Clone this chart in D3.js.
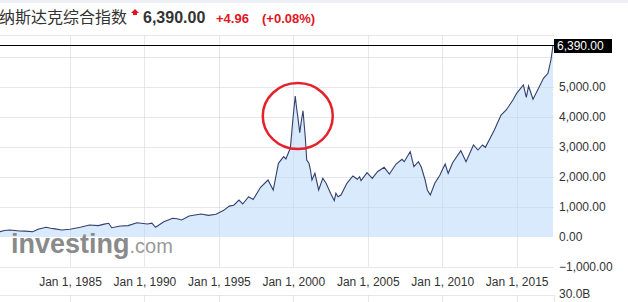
<!DOCTYPE html>
<head>
<meta charset="utf-8">
<script src="https://d3js.org/d3.v7.min.js"></script>
<style>
  body { margin: 0; background: #fff; }
  svg { display: block; font-family: Arial, "Liberation Sans", sans-serif; }
</style>
</head>
<body>
<svg id="chart" width="628" height="302"></svg>
<script>
// Nasdaq composite (decimal year, close)
const years = [
  1980.30, 1980.60, 1980.95, 1981.30, 1981.60, 1982.00, 1982.50, 1982.85, 1983.40, 1983.70,
  1984.00, 1984.45, 1985.00, 1985.70, 1986.30, 1986.90, 1987.30, 1987.60, 1987.80, 1988.40,
  1988.90, 1989.50, 1990.20, 1990.50, 1990.75, 1991.30, 1991.90, 1992.20, 1992.50, 1993.00,
  1993.80, 1994.30, 1994.80, 1995.30, 1995.70, 1996.00, 1996.35, 1996.60, 1997.00, 1997.30,
  1997.80, 1998.30, 1998.65, 1999.00, 1999.35, 1999.50, 1999.70, 1999.80, 1999.98, 2000.13,
  2000.22, 2000.30, 2000.43, 2000.55, 2000.65, 2000.80, 2000.90, 2001.05, 2001.15, 2001.25,
  2001.45, 2001.70, 2001.98, 2002.20, 2002.50, 2002.75, 2002.86, 2003.00, 2003.20, 2003.60,
  2004.00, 2004.30, 2004.45, 2004.55, 2004.95, 2005.30, 2005.65, 2006.10, 2006.45, 2006.90,
  2007.30, 2007.45, 2007.85, 2008.10, 2008.40, 2008.60, 2008.85, 2009.00, 2009.20, 2009.50,
  2009.85, 2010.00, 2010.20, 2010.40, 2010.70, 2011.25, 2011.60, 2012.10, 2012.40, 2012.70,
  2012.90, 2013.50, 2013.95, 2014.30, 2014.75, 2015.00, 2015.45, 2015.65, 2015.80, 2016.10,
  2016.35, 2016.80, 2017.10, 2017.30, 2017.44
];
const closes = [
  177, 215, 233, 215, 200, 195, 177, 260, 323, 290,
  270, 233, 260, 323, 400, 380, 430, 457, 310, 367,
  380, 477, 433, 460, 323, 510, 623, 610, 567, 700,
  767, 720, 760, 880, 1030, 1060, 1230, 1100, 1343, 1250,
  1657, 1900, 1567, 2457, 2677, 2600, 2843, 2957, 3957, 4700,
  4300, 4010, 3477, 3900, 4210, 3343, 2567, 2457, 2233, 1900,
  2123, 1567, 1957, 1790, 1457, 1210, 1457, 1343, 1400, 1790,
  2033, 1923, 2010, 1877, 2143, 1957, 2177, 2323, 2100, 2433,
  2590, 2510, 2843, 2343, 2510, 2323, 1900, 1567, 1400, 1790,
  2067, 2233, 2433, 2123, 2477, 2877, 2510, 3067, 2900, 3067,
  2990, 3567, 4067, 4233, 4567, 4790, 5067, 4657, 5033, 4590,
  4843, 5290, 5457, 5900, 6390
];
const yLabels = [-1000, 0, 1000, 2000, 3000, 4000, 5000];
const yGrid = [1000, 2000, 3000, 4000, 5000, 6000];
const xTickYears = [1985, 1990, 1995, 2000, 2005, 2010, 2015];
const lastPrice = 6390;

function toDate(y) {
  const yr = Math.floor(y);
  const a = new Date(yr, 0, 1), b = new Date(yr + 1, 0, 1);
  return new Date(+a + (y - yr) * (b - a));
}
const data = years.map((y, i) => ({date: toDate(y), v: closes[i]}));

const svg = d3.select("#chart");
const plotR = 554;

const x = d3.scaleTime()
  .domain([toDate(1980.30), toDate(2017.44)])
  .range([0, 553]);
const y = d3.scaleLinear()
  .domain([-1000, 6733.3])
  .range([267, 35]);

// header
svg.append("rect").attr("x", 0).attr("y", 0).attr("width", 628).attr("height", 3).attr("fill", "#eef0f5");
svg.append("text").attr("x", -1).attr("y", 23)
  .style("font-family", "'Noto Sans CJK SC', sans-serif").style("font-size", "16px")
  .attr("fill", "#333").text("纳斯达克综合指数");
svg.append("path").attr("d", "M135,9 L139,13 L137,13 L137,15 L133,15 L133,13 L131,13 Z").attr("fill", "#e0161f");
svg.append("text").attr("x", 143).attr("y", 23).style("font-size", "16px").style("font-weight", "bold")
  .attr("fill", "#333").text("6,390.00");
svg.append("text").attr("x", 216).attr("y", 23).style("font-size", "13px").style("font-weight", "bold")
  .attr("fill", "#e0161f").text("+4.96");
svg.append("text").attr("x", 262).attr("y", 23).style("font-size", "13px").style("font-weight", "bold")
  .attr("fill", "#e0161f").text("(+0.08%)");

// area + line
svg.append("path").datum(data)
  .attr("fill", "#d9eafc")
  .attr("d", d3.area().x(d => x(d.date)).y0(y(0)).y1(d => y(d.v)));

// grid
const grid = svg.append("g").attr("stroke", "#c9d1dc").attr("stroke-opacity", 0.5);
grid.selectAll("line.h").data(yGrid).join("line")
  .attr("x1", 0).attr("x2", plotR).attr("y1", d => Math.round(y(d)) + 0.5).attr("y2", d => Math.round(y(d)) + 0.5);
grid.append("line").attr("x1", 0).attr("x2", plotR).attr("y1", 35.5).attr("y2", 35.5);
grid.append("line").attr("x1", 0).attr("x2", plotR).attr("y1", 267.5).attr("y2", 267.5);
grid.append("line").attr("x1", 0).attr("x2", plotR).attr("y1", 295.5).attr("y2", 295.5);
grid.selectAll("line.v").data(xTickYears).join("line")
  .attr("x1", d => Math.round(x(new Date(d, 0, 1))) + 0.5).attr("x2", d => Math.round(x(new Date(d, 0, 1))) + 0.5)
  .attr("y1", 35).attr("y2", 267);
grid.selectAll("line.vb").data(xTickYears).join("line")
  .attr("x1", d => Math.round(x(new Date(d, 0, 1))) + 0.5).attr("x2", d => Math.round(x(new Date(d, 0, 1))) + 0.5)
  .attr("y1", 295).attr("y2", 302);
grid.append("line").attr("x1", plotR + 0.5).attr("x2", plotR + 0.5).attr("y1", 295).attr("y2", 302);

svg.append("path").datum(data)
  .attr("fill", "none").attr("stroke", "#33406e").attr("stroke-width", 1.1)
  .attr("d", d3.line().x(d => x(d.date)).y(d => y(d.v)));

// last price line
svg.append("line").attr("x1", 0).attr("x2", plotR).attr("y1", Math.round(y(lastPrice)) + 0.5)
  .attr("y2", Math.round(y(lastPrice)) + 0.5).attr("stroke", "#000").attr("stroke-width", 1);

// y axis
const yAxis = svg.append("g").attr("transform", `translate(${plotR},0)`)
  .call(d3.axisRight(y).tickValues(yLabels).tickSize(0).tickPadding(5)
    .tickFormat(d => d3.format(",.2f")(d)));
yAxis.select(".domain").remove();
yAxis.selectAll("text").style("font-size", "12px").attr("fill", "#333").style("font-family", "Arial, 'Liberation Sans'");

svg.append("rect").attr("x", plotR).attr("y", 39).attr("width", 58).attr("height", 14).attr("fill", "#000");
svg.append("text").attr("x", plotR + 3).attr("y", 46).attr("dy", "0.35em")
  .style("font-size", "12px").attr("fill", "#fff").text(d3.format(",.2f")(lastPrice));

svg.append("text").attr("x", plotR + 5).attr("y", 294).attr("dy", "0.35em")
  .style("font-size", "12px").attr("fill", "#333").text("30.0B");

// x axis
const xAxis = svg.append("g").attr("transform", "translate(0,282)")
  .call(d3.axisBottom(x).tickValues(xTickYears.map(d => new Date(d, 0, 1)))
    .tickSize(0).tickPadding(0).tickFormat(d3.timeFormat("Jan 1, %Y")));
xAxis.select(".domain").remove();
xAxis.selectAll("text").attr("dy", "0.35em").style("font-size", "12px").attr("fill", "#333")
  .style("font-family", "Arial, 'Liberation Sans'");

// watermark
const logo = svg.append("text").attr("x", 11).attr("y", 253).attr("fill", "#8a8a8a");
logo.append("tspan").style("font-size", "27px").style("font-weight", "bold").text("investing");
logo.append("tspan").style("font-size", "20px").attr("fill", "#9a9a9a").text(".com");

// highlight the dot-com peak
svg.append("ellipse").attr("cx", x(toDate(2000.3))).attr("cy", y(4030)).attr("rx", 35).attr("ry", 33)
  .attr("fill", "none").attr("stroke", "#e5212b").attr("stroke-width", 2.5);
</script>
</body>
